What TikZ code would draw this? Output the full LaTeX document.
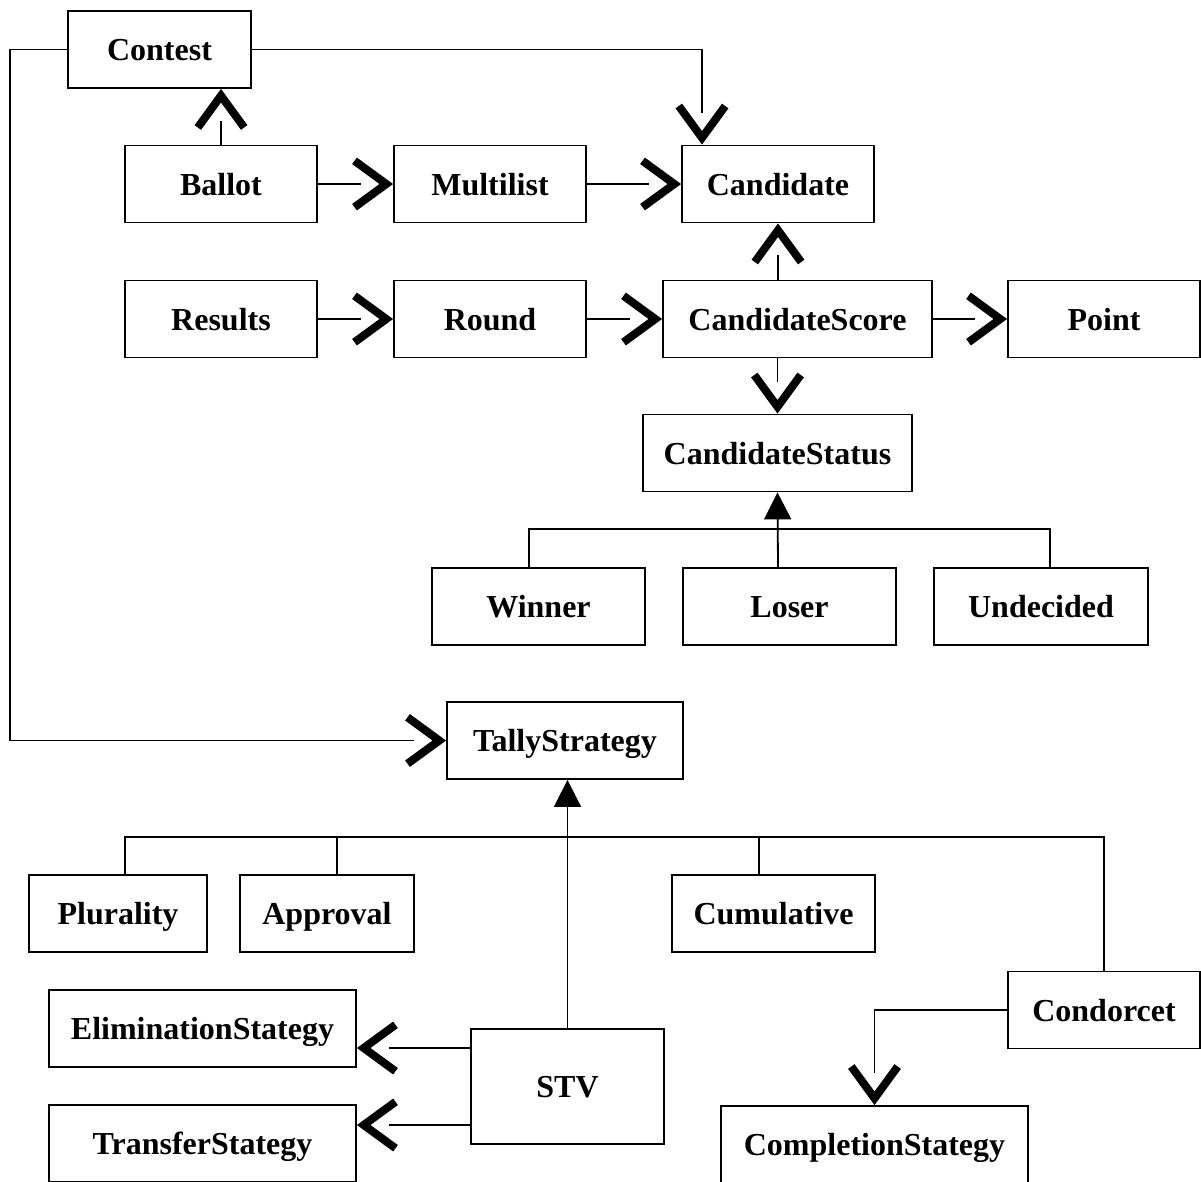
\documentclass[tikz,border=0pt]{standalone}
\usepackage{fontspec}
\setmainfont{Liberation Serif}
\usetikzlibrary{arrows.meta}
% open association head, thin line stops short of the vertex
\pgfdeclarearrow{
  name = Assoc,
  setup code = {
    \pgfarrowssettipend{0pt}
    \pgfarrowssetlineend{-32pt}
    \pgfarrowssetbackend{-41pt}
    \pgfarrowshullpoint{0pt}{0pt}
    \pgfarrowshullpoint{-41pt}{26.5pt}
    \pgfarrowshullpoint{-41pt}{-26.5pt}
  },
  drawing code = {
    \pgfsetdash{}{0pt}
    \pgfsetlinewidth{8pt}
    \pgfsetmiterjoin\pgfsetbuttcap
    \pgfpathmoveto{\pgfpoint{-38.6pt}{23.2pt}}
    \pgfpathlineto{\pgfpoint{-6.8pt}{0pt}}
    \pgfpathlineto{\pgfpoint{-38.6pt}{-23.2pt}}
    \pgfusepathqstroke
  }
}
\begin{document}
\begin{tikzpicture}[x=1pt,y=-1pt,line width=1.8pt,line join=miter,
  box/.style={draw,inner sep=0pt,minimum height=77pt,text height=28pt,text depth=6pt,
    font=\bfseries\fontsize{32}{38}\selectfont},
  has/.style={-Assoc},
  isa/.style={-{Triangle[length=27pt,width=27pt]}}]
\clip (0,0) rectangle (1201,1181);
% classes
\node[box,minimum width=183pt] (contest) at (159.5,49.5) {Contest};
\node[box,minimum width=192pt] (ballot) at (221,184) {Ballot};
\node[box,minimum width=192pt] (multi) at (490,184) {Multilist};
\node[box,minimum width=192pt] (cand) at (778,184) {Candidate};
\node[box,minimum width=192pt] (results) at (221,319) {Results};
\node[box,minimum width=192pt] (round) at (490,319) {Round};
\node[box,minimum width=269pt] (score) at (797.5,319) {CandidateScore};
\node[box,minimum width=192pt] (point) at (1104,319) {Point};
\node[box,minimum width=269pt] (status) at (777.5,453) {CandidateStatus};
\node[box,minimum width=213pt] (winner) at (538.5,606.5) {Winner};
\node[box,minimum width=213pt] (loser) at (789.5,606.5) {Loser};
\node[box,minimum width=214pt] (undec) at (1041,606.5) {Undecided};
\node[box,minimum width=236pt] (tally) at (565,740.5) {TallyStrategy};
\node[box,minimum width=178pt] (plur) at (118,913.5) {Plurality};
\node[box,minimum width=174pt] (appr) at (327,913.5) {Approval};
\node[box,minimum width=203pt] (cumul) at (773.5,913.5) {Cumulative};
\node[box,minimum width=192pt] (condor) at (1104,1010) {Condorcet};
\node[box,minimum width=307pt] (elim) at (202.5,1028.5) {EliminationStategy};
\node[box,minimum width=193pt,minimum height=115pt] (stv) at (567.5,1086.5) {STV};
\node[box,minimum width=307pt] (transfer) at (202.5,1143.5) {TransferStategy};
\node[box,minimum width=307pt] (complet) at (874.5,1144.5) {CompletionStategy};
% associations
\draw[has] (ballot) -- (multi);
\draw[has] (multi) -- (cand);
\draw[has] (results) -- (round);
\draw[has] (round) -- (score);
\draw[has] (score) -- (point);
\draw[has] (ballot.north) -- (ballot.north |- contest.south);
\draw[has] (contest.east) -| ([xshift=-76pt]cand.north);
\draw[has] (score.north -| cand.south) -- (cand.south);
\draw[has] (score.south -| status.north) -- (status.north);
\draw[has] (contest.west) -- ++(-57,0) |- (tally.west);
\draw[has] ([yshift=38.5pt]stv.west) -- ([yshift=38.5pt]stv.west -| elim.east);
\draw[has] ([yshift=-38.5pt]stv.west) -- ([yshift=-38.5pt]stv.west -| transfer.east);
\draw[has] (condor.west) -| (complet.north);
% generalizations
\coordinate (sbar) at (778,529);
\draw ([xshift=-9.5pt]winner.north) |- ([xshift=9pt]undec.north |- sbar) -- ([xshift=9pt]undec.north);
\draw[isa] (loser.north -| sbar) -- (status.south);
\coordinate (tbar) at (568,837);
\draw ([xshift=7pt]plur.north) |- (condor.north |- tbar) -- (condor.north);
\draw ([xshift=10pt]appr.north) -- ([xshift=10pt]appr.north |- tbar);
\draw ([xshift=-14.5pt]cumul.north) -- ([xshift=-14.5pt]cumul.north |- tbar);
\draw[isa] (stv.north) -- (stv.north |- tally.south);
\end{tikzpicture}
\end{document}
